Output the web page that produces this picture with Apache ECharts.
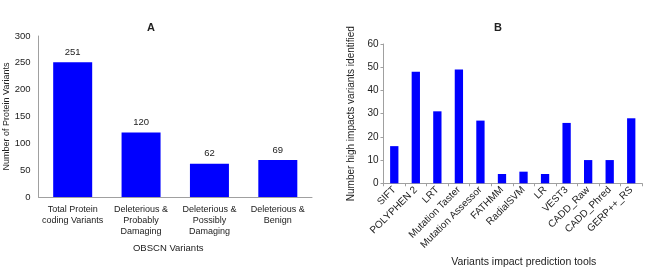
<!DOCTYPE html>
<html>
<head>
<meta charset="utf-8">
<script src="https://cdn.jsdelivr.net/npm/echarts@6/dist/echarts.min.js"></script>
<style>html,body{margin:0;padding:0;background:#fff}#c{width:650px;height:273px}</style>
</head>
<body>
<div id="c"></div>
<script>
const categoriesA = ["Total Protein\ncoding Variants", "Deleterious &\nProbably\nDamaging", "Deleterious &\nPossibly\nDamaging", "Deleterious &\nBenign"];
const valuesA = [251, 120, 62, 69];
const categoriesB = ["SIFT", "POLYPHEN 2", "LRT", "Mutation Taster", "Mutation Assessor", "FATHMM", "RadialSVM", "LR", "VEST3", "CADD_Raw", "CADD_Phred", "GERP++_RS"];
const valuesB = [16, 48, 31, 49, 27, 4, 5, 4, 26, 10, 10, 28];

const font = "Liberation Sans, Arial, sans-serif";
const axisCol = "#a0a0a0";
const txt = "#222";
const chart = echarts.init(document.getElementById('c'));
chart.setOption({
  animation: false,
  textStyle: {fontFamily: font},
  title: [
    {text: "A", left: 146, top: 17, textAlign: 'center', textStyle: {fontSize: 11, fontWeight: 'bold', color: txt, fontFamily: font}},
    {text: "B", left: 493, top: 17, textAlign: 'center', textStyle: {fontSize: 11, fontWeight: 'bold', color: txt, fontFamily: font}}
  ],
  grid: [
    {left: 38.5, right: 338, top: 36, bottom: 76},
    {left: 383.5, right: 8, top: 44, bottom: 79}
  ],
  xAxis: [
    {type: 'category', gridIndex: 0, data: categoriesA,
     axisLine: {lineStyle: {color: axisCol}}, axisTick: {show: false},
     axisLabel: {color: txt, fontSize: 9, margin: 7, lineHeight: 11, interval: 0, fontFamily: font},
     name: "OBSCN Variants", nameLocation: 'middle', nameGap: 46,
     nameTextStyle: {color: txt, fontSize: 9.5, fontFamily: font, padding: [0, 14, 0, 0]}},
    {type: 'category', gridIndex: 1, data: categoriesB,
     axisLine: {lineStyle: {color: axisCol}}, axisTick: {show: true, length: 3, lineStyle: {color: axisCol}},
     axisLabel: {color: txt, fontSize: 10, margin: 5, rotate: 45, interval: 0, fontFamily: font},
     name: "Variants impact prediction tools", nameLocation: 'middle', nameGap: 68,
     nameTextStyle: {color: txt, fontSize: 10.5, fontFamily: font, padding: [0, 0, 0, 22]}}
  ],
  yAxis: [
    {type: 'value', gridIndex: 0, min: 0, max: 300, interval: 50,
     axisLine: {show: true, lineStyle: {color: axisCol}}, axisTick: {show: false}, splitLine: {show: false},
     axisLabel: {color: txt, fontSize: 9.5, margin: 8, fontFamily: font},
     name: "Number of Protein Variants", nameLocation: 'middle', nameGap: 24,
     nameTextStyle: {color: txt, fontSize: 9, fontFamily: font}},
    {type: 'value', gridIndex: 1, min: 0, max: 60, interval: 10,
     axisLine: {show: true, lineStyle: {color: axisCol}}, axisTick: {show: true, length: 3, lineStyle: {color: axisCol}}, splitLine: {show: false},
     axisLabel: {color: txt, fontSize: 10, margin: 5, fontFamily: font},
     name: "Number high impacts variants identified", nameLocation: 'middle', nameGap: 27,
     nameTextStyle: {color: txt, fontSize: 10, fontFamily: font}}
  ],
  series: [
    {type: 'bar', xAxisIndex: 0, yAxisIndex: 0, data: valuesA, barWidth: 39,
     itemStyle: {color: '#0000ff'},
     label: {show: true, position: 'top', distance: 5, color: txt, fontSize: 9.5, fontFamily: font}},
    {type: 'bar', xAxisIndex: 1, yAxisIndex: 1, data: valuesB, barWidth: 8.3,
     itemStyle: {color: '#0000ff'}}
  ]
});
</script>
</body>
</html>
